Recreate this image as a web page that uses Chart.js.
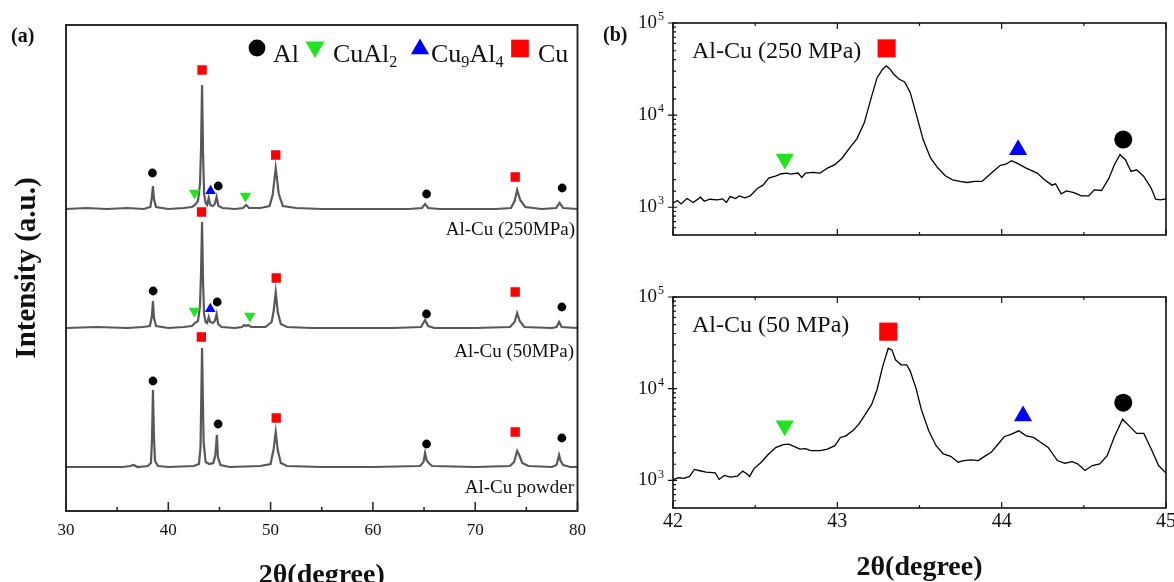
<!DOCTYPE html>
<html><head><meta charset="utf-8">
<script src="https://cdn.jsdelivr.net/npm/chart.js@4.4.1/dist/chart.umd.min.js"></script>
<style>
html,body{margin:0;padding:0;background:#fff;}
body{width:1174px;height:582px;position:relative;overflow:hidden;}
canvas{position:absolute;display:block;}
</style></head><body>
<canvas id="ca" width="600" height="582" style="left:0;top:0"></canvas>
<canvas id="cb1" width="600" height="262" style="left:600px;top:0"></canvas>
<canvas id="cb2" width="600" height="320" style="left:600px;top:262px"></canvas>
<script>
const FONT = "'Liberation Serif','Times New Roman',serif";

// ---------- Panel (a): XRD patterns 30-80 deg (intensity above own baseline, a.u.) ----------
const twoThetaPowder = [30,33,35.5,36.3,36.6,37,38.0,38.3,38.4,38.5,38.6,38.7,39.0,40,42.5,43.0,43.15,43.3,43.45,43.65,44.0,44.4,44.6,44.75,44.85,45.1,46,49,50.0,50.3,50.5,50.7,51.0,51.6,55,60,64.6,64.95,65.1,65.25,65.45,65.8,70,73.4,73.8,74.1,74.3,74.6,75.2,77.5,77.95,78.2,78.35,78.6,79.3,80];
const intensityPowder = [0,0,0,1,2,0,1,4,25,77,30,6,1,0,1,3,20,119,25,5,3,4,12,32,10,2,0,1,3,18,35,17,4,1,0,0,1,5,14,7,4,1,0,1,5,16,12,4,1,0,2,12,6,2,0,0];
const twoTheta50MPa = [30,33,36,37.5,38.2,38.4,38.5,38.6,38.8,40,41.5,42.3,42.6,42.9,43.1,43.2,43.3,43.4,43.5,43.65,43.8,43.95,44.1,44.35,44.55,44.72,44.87,45.2,46.5,47.2,47.4,47.6,47.8,48.1,49.5,50.1,50.3,50.5,50.7,51.0,51.6,54,58,62,64.7,65.1,65.4,66,70,73.4,73.85,74.1,74.35,74.8,77.5,77.95,78.2,78.45,80];
const intensity50MPa = [0,1,0,1,2,12,27,10,2,0,1,2,5,7,22,55,106,45,14,6,5,11,6,5,7,14,4,1,0,1,3,2,3,1,1,6,17,36,16,4,1,0,0,0,1,8,2,0,0,1,6,15,7,1,0,1,6,1,0];
const twoTheta250MPa = [30,32,34,36,37.6,38.25,38.4,38.5,38.6,38.8,40,41.5,42.3,42.6,42.9,43.1,43.2,43.3,43.4,43.5,43.65,43.8,43.95,44.1,44.35,44.55,44.72,44.9,45.3,46.5,47.3,47.6,47.9,49,49.9,50.2,50.5,50.8,51.2,52.5,55,58,61,63.5,64.8,65.1,65.4,66.5,69,72,73.5,73.85,74.1,74.4,74.9,76.5,77.9,78.25,78.6,80];
const intensity250MPa = [0,1,0,1,0,2,12,23,10,2,0,1,2,4,8,25,60,124,55,15,6,4,11,4,3,5,12,3,1,0,1,4,1,1,3,14,41,15,3,1,0,0,0,0,1,5,1,0,0,0,1,8,19,9,2,0,1,6,1,0];
// vertical stacking offsets of the three patterns (a.u.)
const offsetPowder = 48;
const offset50MPa = 187;
const offset250MPa = 306;

// phase markers: [2θ, height above the pattern baseline]
const alMarksPowder = [[38.5,86],[44.87,43],[65.25,23],[78.47,29]];
const cuMarksPowder = [[43.23,130],[50.55,49],[73.91,35]];
const alMarks50MPa = [[38.52,37],[44.78,26],[65.24,14],[78.47,21]];
const cuAl2Marks50MPa = [[42.55,17],[47.97,12]];
const cu9Al4Marks50MPa = [[44.1,19]];
const cuMarks50MPa = [[43.25,116],[50.55,50],[73.91,36]];
const alMarks250MPa = [[38.45,36],[44.88,23],[65.25,15],[78.5,21]];
const cuAl2Marks250MPa = [[42.57,16],[47.54,13]];
const cu9Al4Marks250MPa = [[44.13,18]];
const cuMarks250MPa = [[43.3,139],[50.5,54],[73.91,32]];

// ---------- Panel (b): zoom 42-45 deg, log intensity ----------
const zoomTheta250 = [42.000,42.027,42.049,42.085,42.123,42.168,42.190,42.224,42.269,42.302,42.325,42.347,42.381,42.403,42.437,42.470,42.515,42.548,42.582,42.627,42.660,42.694,42.716,42.761,42.784,42.806,42.851,42.895,42.940,42.985,43.030,43.075,43.119,43.164,43.209,43.242,43.276,43.298,43.321,43.343,43.377,43.410,43.444,43.478,43.522,43.567,43.612,43.657,43.701,43.746,43.791,43.836,43.880,43.914,43.948,43.992,44.026,44.060,44.093,44.149,44.216,44.261,44.306,44.328,44.362,44.395,44.440,44.485,44.530,44.563,44.608,44.653,44.686,44.720,44.753,44.787,44.821,44.865,44.910,44.937,44.966,45.000];
const zoomI250 = [1106,1183,1087,1245,1125,1286,1162,1222,1202,1233,1125,1306,1245,1330,1265,1330,1610,1738,2070,2196,2311,2351,2291,2351,2108,2351,2390,2351,2663,2897,3426,4406,5525,8244,16100,25500,31500,34260,31500,27800,24500,22900,17540,10600,5430,3426,2663,2196,1987,1906,1858,1906,1906,2162,2449,2850,2945,3200,3017,2663,2351,1987,1738,1799,1397,1507,1445,1330,1330,1545,1520,2070,2897,3725,3283,2449,2553,2162,1610,1222,1202,1233];
const zoomTheta50 = [42.000,42.034,42.067,42.101,42.130,42.157,42.201,42.257,42.280,42.313,42.347,42.392,42.425,42.448,42.466,42.492,42.537,42.582,42.627,42.672,42.705,42.739,42.772,42.806,42.839,42.895,42.940,42.985,43.019,43.052,43.097,43.131,43.164,43.209,43.242,43.276,43.310,43.332,43.354,43.388,43.422,43.444,43.478,43.511,43.556,43.601,43.645,43.690,43.735,43.769,43.813,43.858,43.903,43.936,43.970,44.015,44.060,44.104,44.149,44.194,44.239,44.283,44.339,44.384,44.429,44.462,44.507,44.552,44.597,44.642,44.686,44.736,44.776,44.821,44.865,44.910,44.955,45.000];
const zoomI50 = [1016,1069,1052,1105,1315,1282,1230,1211,1025,1133,1087,1114,1262,1181,1105,1337,1578,1941,2291,2449,2489,2333,2198,2218,2109,2109,2198,2389,2938,3062,3530,4101,5045,6745,9795,17500,27600,26500,20650,18230,18230,15450,10200,5955,3475,2389,1941,1832,1578,1645,1672,1645,1862,2023,2389,2992,3199,3475,3062,2938,2594,2291,1645,1538,1603,1514,1282,1452,1514,1862,2992,4645,3935,3253,3253,2198,1452,1199];
// phase markers in (b): [2θ, intensity]
const zoomMarkCu250 = [43.30,53000], zoomMarkCuAl2_250 = [42.68,3340], zoomMarkCu9Al4_250 = [44.10,4220], zoomMarkAl250 = [44.74,5430];
const zoomMarkCu50 = [43.31,41860], zoomMarkCuAl2_50 = [42.68,3935], zoomMarkCu9Al4_50 = [44.13,5045], zoomMarkAl50 = [44.74,7030];

const logTickLabels = [3,4,5];
const panelALabels = ['Al-Cu (250MPa)','Al-Cu (50MPa)','Al-Cu powder'];

// ---------- helpers ----------
const H = Chart.helpers;
const xy = (xs, ys, off) => xs.map((x,i) => ({x, y: ys[i] + off}));
const mk = (arr, off) => arr.map(([x,h]) => ({x, y: h + off}));
const pt = ([x,y]) => ({x, y});
const GREEN = '#22e322', BLUE = '#0000ff', RED = '#ff0000', BLACK = '#000';

function richText(ctx, x, y, parts, size){
  let cx = x;
  parts.forEach(([t,s]) => {
    ctx.font = (s? size*0.62 : size) + 'px ' + FONT;
    ctx.fillText(t, cx, s ? y + size*0.2 : y);
    cx += ctx.measureText(t).width;
  });
}

function framePlugin(cfg){
  return {
    id: 'frame' + cfg.name,
    afterDraw(chart){
      const {ctx, chartArea:a, scales:{x, y}} = chart;
      ctx.save();
      ctx.strokeStyle = cfg.color;
      ctx.lineWidth = cfg.tickWidth;
      ctx.beginPath();
      x.ticks.forEach(t => {
        const px = x.getPixelForValue(t.value);
        const r = t.value / cfg.xMajor;
        const len = Math.abs(r - Math.round(r)) < 1e-6 ? cfg.xMajorLen : cfg.xMinorLen;
        ctx.moveTo(px, a.bottom); ctx.lineTo(px, a.bottom - len);
        if (cfg.topTicks){ ctx.moveTo(px, a.top); ctx.lineTo(px, a.top + len); }
      });
      if (cfg.logY){
        y.ticks.forEach(t => {
          const lg = Math.log10(t.value);
          const major = Math.abs(lg - Math.round(lg)) < 1e-9;
          const py = y.getPixelForValue(t.value);
          if (major){ ctx.moveTo(a.left - cfg.yMajorOut, py); ctx.lineTo(a.left + cfg.yMajorLen, py); }
          else { ctx.moveTo(a.left, py); ctx.lineTo(a.left + cfg.yMinorLen, py); }
        });
      }
      ctx.stroke();
      ctx.lineWidth = cfg.frameWidth;
      ctx.strokeRect(a.left, a.top, a.right - a.left, a.bottom - a.top);
      if (cfg.logY){
        ctx.fillStyle = '#111';
        ctx.textBaseline = 'middle';
        logTickLabels.forEach(e => {
          const py = y.getPixelForValue(Math.pow(10, e));
          ctx.font = '19px ' + FONT; ctx.textAlign = 'right';
          ctx.fillText('10', a.left - 16, py);
          ctx.font = '12px ' + FONT; ctx.textAlign = 'left';
          ctx.fillText(String(e), a.left - 15, py - 6);
        });
      }
      ctx.restore();
    }
  };
}

// ---------- Chart (a) ----------
const chartA = new Chart(document.getElementById('ca'), {
  type: 'scatter',
  data: { datasets: [
    { label:'Al', data:[...mk(alMarks250MPa,offset250MPa), ...mk(alMarks50MPa,offset50MPa), ...mk(alMarksPowder,offsetPowder)],
      pointStyle:'circle', pointRadius:4.4, pointBackgroundColor:BLACK, pointBorderWidth:0 },
    { label:'CuAl2', data:[...mk(cuAl2Marks250MPa,offset250MPa), ...mk(cuAl2Marks50MPa,offset50MPa)],
      pointStyle:'triangle', pointRotation:180, pointRadius:6.6, pointBackgroundColor:GREEN, pointBorderWidth:0 },
    { label:'Cu9Al4', data:[...mk(cu9Al4Marks250MPa,offset250MPa), ...mk(cu9Al4Marks50MPa,offset50MPa)],
      pointStyle:'triangle', pointRadius:6.2, pointBackgroundColor:BLUE, pointBorderWidth:0 },
    { label:'Cu', data:[...mk(cuMarks250MPa,offset250MPa), ...mk(cuMarks50MPa,offset50MPa), ...mk(cuMarksPowder,offsetPowder)],
      pointStyle:'rect', pointRadius:6.6, pointBackgroundColor:RED, pointBorderWidth:0 },
    { label:panelALabels[0], data:xy(twoTheta250MPa,intensity250MPa,offset250MPa), showLine:true, borderColor:'#585858', borderWidth:2.2, pointRadius:0 },
    { label:panelALabels[1], data:xy(twoTheta50MPa,intensity50MPa,offset50MPa), showLine:true, borderColor:'#585858', borderWidth:2.2, pointRadius:0 },
    { label:panelALabels[2], data:xy(twoThetaPowder,intensityPowder,offsetPowder), showLine:true, borderColor:'#585858', borderWidth:2.2, pointRadius:0 }
  ]},
  options: {
    responsive:false, animation:false, devicePixelRatio:1,
    layout:{ padding:{ left:0, right:22.5, top:25, bottom:0 } },
    plugins:{ legend:{display:false}, tooltip:{enabled:false} },
    scales:{
      x:{ type:'linear', min:30, max:80, grid:{display:false, drawTicks:false}, border:{display:false},
          ticks:{ stepSize:5, autoSkip:false, maxRotation:0, padding:9, color:'#111', font:{family:FONT, size:17},
                  callback:v => (v % 10 === 0 ? String(v) : '') },
          title:{ display:true, text:'2θ(degree)', color:'#111', font:{family:FONT, size:28, weight:'bold', lineHeight:1}, padding:{top:0, bottom:-8} },
          afterFit:s => { s.height = 71; } },
      y:{ type:'linear', min:4, max:490, grid:{display:false, drawTicks:false}, border:{display:false}, ticks:{display:false},
          title:{ display:true, text:'Intensity (a.u.)', color:'#111', font:{family:FONT, size:29, weight:'bold', lineHeight:1.2}, padding:{top:10, bottom:0} },
          afterFit:s => { s.width = 66; } }
    }
  },
  plugins:[
    framePlugin({name:'A', color:'#222', tickWidth:1.5, frameWidth:1.9, xMajor:10, xMajorLen:9, xMinorLen:4, topTicks:false, logY:false}),
    { id:'annotA', afterDraw(chart){
        const ctx = chart.ctx;
        ctx.save();
        ctx.fillStyle = '#111';
        ctx.textBaseline = 'middle';
        ctx.font = 'bold 20px ' + FONT; ctx.textAlign = 'left';
        ctx.fillText('(a)', 11, 37);
        ctx.font = '19px ' + FONT; ctx.textAlign = 'right';
        ctx.fillText(panelALabels[0], 575, 230);
        ctx.fillText(panelALabels[1], 574, 352);
        ctx.fillText(panelALabels[2], 574, 488);
        // legend
        const ds = chart.data.datasets;
        const items = [
          {d:ds[0], mx:257, my:48, r:8.4, tx:273, parts:[['Al',0]]},
          {d:ds[1], mx:315, my:47, r:11, tx:333, parts:[['CuAl',0],['2',1]]},
          {d:ds[2], mx:420, my:49, r:10.5, tx:431, parts:[['Cu',0],['9',1],['Al',0],['4',1]]},
          {d:ds[3], mx:520, my:48.5, r:12.5, tx:538, parts:[['Cu',0]]}
        ];
        items.forEach(it => {
          ctx.fillStyle = it.d.pointBackgroundColor;
          H.drawPoint(ctx, {pointStyle:it.d.pointStyle, rotation:it.d.pointRotation || 0, radius:it.r, borderWidth:0}, it.mx, it.my);
          ctx.fillStyle = '#111'; ctx.textAlign = 'left'; ctx.textBaseline = 'alphabetic';
          richText(ctx, it.tx, 62, it.parts, 26);
        });
        ctx.restore();
    }}
  ]
});

// ---------- Charts (b) ----------
function zoomChart(id, thetas, vals, marks, label, showXLabels, xAxisHeight, padTop){
  return new Chart(document.getElementById(id), {
    type:'scatter',
    data:{ datasets:[
      { label:'Cu', data:[pt(marks[0])], pointStyle:'rect', pointRadius:12.8, pointBackgroundColor:RED, pointBorderWidth:0 },
      { label:'CuAl2', data:[pt(marks[1])], pointStyle:'triangle', pointRotation:180, pointRadius:10.5, pointBackgroundColor:GREEN, pointBorderWidth:0 },
      { label:'Cu9Al4', data:[pt(marks[2])], pointStyle:'triangle', pointRadius:10.5, pointBackgroundColor:BLUE, pointBorderWidth:0 },
      { label:'Al', data:[pt(marks[3])], pointStyle:'circle', pointRadius:9, pointBackgroundColor:BLACK, pointBorderWidth:0 },
      { label:label, data:thetas.map((x,i) => ({x, y:vals[i]})), showLine:true, borderColor:'#000', borderWidth:1.3, pointRadius:0 }
    ]},
    options:{
      responsive:false, animation:false, devicePixelRatio:1,
      layout:{ padding:{ left:0, right:34, top:padTop, bottom:0 } },
      plugins:{ legend:{display:false}, tooltip:{enabled:false} },
      scales:{
        x:{ type:'linear', min:42, max:45, grid:{display:false, drawTicks:false}, border:{display:false},
            ticks:{ display:showXLabels, stepSize:0.5, autoSkip:false, maxRotation:0, padding:2, color:'#111', font:{family:FONT, size:20},
                    callback:v => (Number.isInteger(v) ? String(v) : '') },
            title:{ display:showXLabels, text:'2θ(degree)', color:'#111', font:{family:FONT, size:28, weight:'bold', lineHeight:1}, padding:0 },
            afterFit:s => { s.height = xAxisHeight; } },
        y:{ type:'logarithmic', min:500, max:100000, grid:{display:false, drawTicks:false}, border:{display:false}, ticks:{display:false},
            afterFit:s => { s.width = 73; } }
      }
    },
    plugins:[
      framePlugin({name:id, color:'#111', tickWidth:1.2, frameWidth:1.6, xMajor:1, xMajorLen:6, xMinorLen:3, topTicks:true, logY:true, yMajorOut:5, yMajorLen:4, yMinorLen:3}),
      { id:'annot'+id, afterDraw(chart){
          const ctx = chart.ctx;
          ctx.save();
          ctx.fillStyle = '#111'; ctx.textBaseline = 'middle'; ctx.textAlign = 'left';
          ctx.font = '24px ' + FONT;
          ctx.fillText(label, chart.chartArea.left + 19, chart.chartArea.top + 29);
          if (!showXLabels){ ctx.font = 'bold 20px ' + FONT; ctx.fillText('(b)', 3, 36); }
          ctx.restore();
      }}
    ]
  });
}
zoomChart('cb1', zoomTheta250, zoomI250, [zoomMarkCu250, zoomMarkCuAl2_250, zoomMarkCu9Al4_250, zoomMarkAl250], 'Al-Cu (250 MPa)', false, 27, 23);
zoomChart('cb2', zoomTheta50, zoomI50, [zoomMarkCu50, zoomMarkCuAl2_50, zoomMarkCu9Al4_50, zoomMarkAl50], 'Al-Cu (50 MPa)', true, 74, 35);
</script>
</body></html>
